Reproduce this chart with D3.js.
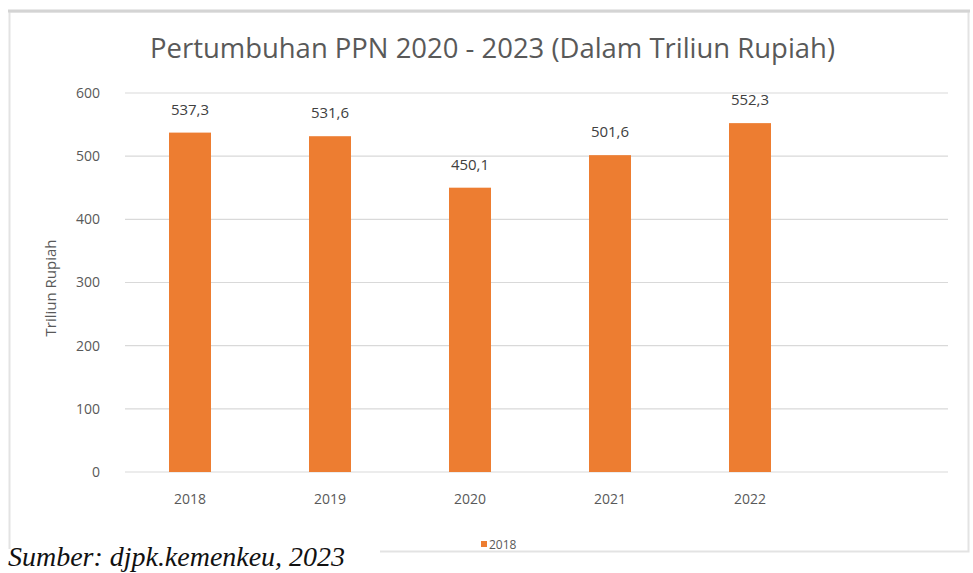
<!DOCTYPE html>
<html>
<head>
<meta charset="utf-8">
<script src="https://cdn.jsdelivr.net/npm/d3@7"></script>
<style>
  body { margin: 0; background: #fff; }
  svg { display: block; }
</style>
</head>
<body>
<div id="chart"></div>
<script>
// data
var years = ["2018", "2019", "2020", "2021", "2022"];
var ppn = [537.3, 531.6, 450.1, 501.6, 552.3];
var valueLabels = ["537,3", "531,6", "450,1", "501,6", "552,3"];
var yTicks = [0, 100, 200, 300, 400, 500, 600];
var legendLabel = "2018";

var width = 973, height = 573;
var plot = { left: 125, right: 948, top: 93, bottom: 472 };

var svg = d3.select("#chart")
    .append("svg")
    .attr("width", width)
    .attr("height", height);

// card background + border
svg.append("rect")
    .attr("x", 9.5)
    .attr("y", 11.5)
    .attr("width", 959)
    .attr("height", 540)
    .attr("fill", "#fff")
    .attr("stroke", "#e3e3e3")
    .attr("stroke-width", 2);

svg.append("line")
    .attr("x1", 8).attr("x2", 970)
    .attr("y1", 11).attr("y2", 11)
    .attr("stroke", "#d4d4d4")
    .attr("stroke-width", 3);

// scales
var xScale = d3.scaleBand()
    .domain(years)
    .range([plot.left - 5, plot.left - 5 + 140 * years.length])
    .paddingInner(0.7)
    .paddingOuter(0.35);

var yScale = d3.scaleLinear()
    .domain([0, 600])
    .range([plot.bottom, plot.top]);

// gridlines
svg.append("g")
    .selectAll("line")
    .data(yTicks)
    .enter()
    .append("line")
    .attr("x1", plot.left)
    .attr("x2", plot.right)
    .attr("y1", d => yScale(d))
    .attr("y2", d => yScale(d))
    .attr("stroke", "#d9d9d9")
    .attr("stroke-width", 1.2);

// y axis labels
var yAxis = d3.axisLeft(yScale).tickValues(yTicks).tickSize(0).tickPadding(0);
var gy = svg.append("g")
    .attr("transform", "translate(" + 100 + ",0)")
    .call(yAxis);
gy.select(".domain").remove();
gy.selectAll("text")
    .attr("fill", "#595959")
    .attr("font-family", "Open Sans, sans-serif")
    .attr("font-size", 14);

// bars
svg.append("g")
    .selectAll("rect")
    .data(ppn)
    .enter()
    .append("rect")
    .attr("x", (d, i) => xScale(years[i]))
    .attr("y", d => yScale(d))
    .attr("width", xScale.bandwidth())
    .attr("height", d => yScale(0) - yScale(d))
    .attr("fill", "#ED7D31");

// value labels
svg.append("g")
    .selectAll("text")
    .data(ppn)
    .enter()
    .append("text")
    .attr("x", (d, i) => xScale(years[i]) + xScale.bandwidth() / 2)
    .attr("y", d => yScale(d) - 18)
    .attr("text-anchor", "middle")
    .attr("fill", "#404040")
    .attr("font-family", "Open Sans, sans-serif")
    .attr("font-size", 15)
    .text((d, i) => valueLabels[i]);

// x axis labels
var xAxis = d3.axisBottom(xScale).tickSize(0).tickPadding(0);
var gx = svg.append("g")
    .attr("transform", "translate(0," + (plot.bottom + 22) + ")")
    .call(xAxis);
gx.select(".domain").remove();
gx.selectAll("text")
    .attr("fill", "#595959")
    .attr("font-family", "Open Sans, sans-serif")
    .attr("font-size", 14);

// title
svg.append("text")
    .attr("x", 150)
    .attr("y", 58)
    .attr("fill", "#595959")
    .attr("font-family", "Open Sans, sans-serif")
    .attr("font-size", 27)
    .attr("textLength", 685)
    .attr("lengthAdjust", "spacingAndGlyphs")
    .text("Pertumbuhan PPN 2020 - 2023 (Dalam Triliun Rupiah)");

// y axis title
svg.append("text")
    .attr("transform", "translate(56,288) rotate(-90)")
    .attr("text-anchor", "middle")
    .attr("fill", "#595959")
    .attr("font-family", "Open Sans, sans-serif")
    .attr("font-size", 15)
    .text("Triliun Rupiah");

// legend
svg.append("rect")
    .attr("x", 481)
    .attr("y", 541)
    .attr("width", 6)
    .attr("height", 6)
    .attr("fill", "#ED7D31");

svg.append("text")
    .attr("x", 489)
    .attr("y", 549)
    .attr("fill", "#595959")
    .attr("font-family", "Open Sans, sans-serif")
    .attr("font-size", 12)
    .text(legendLabel);

// source note
svg.append("rect")
    .attr("x", 0)
    .attr("y", 549)
    .attr("width", 380)
    .attr("height", 24)
    .attr("fill", "#fff");

svg.append("text")
    .attr("x", 8)
    .attr("y", 566)
    .attr("fill", "#111")
    .attr("font-family", "Liberation Serif, serif")
    .attr("font-style", "italic")
    .attr("font-size", 28)
    .attr("textLength", 337)
    .attr("lengthAdjust", "spacingAndGlyphs")
    .text("Sumber: djpk.kemenkeu, 2023");
</script>
</body>
</html>
